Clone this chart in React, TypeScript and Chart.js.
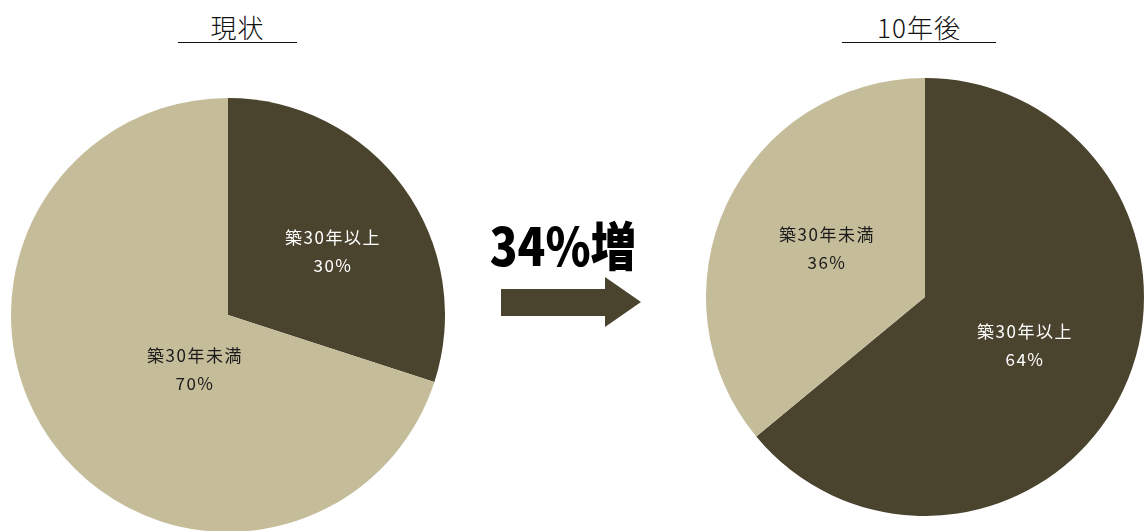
import React, { useEffect, useRef } from "react";
import { Chart, registerables } from "chart.js";

Chart.register(...registerables);

// ---- data ----
const categories = ["築30年以上", "築30年未満"];
const currentValues = [30, 70];
const futureValues = [64, 36];
const titles = ["現状", "10年後"];
const increaseText = "34%増";

const DARK = "#4a432e";
const LIGHT = "#c5bd9a";
const sliceColors = [DARK, LIGHT];
const labelColors = ["#ffffff", "#1a1a1a"];

type Offs = [number, number][];

const labelPlugin = {
  id: "sliceLabels",
  afterDatasetsDraw(chart: any) {
    const offs: Offs = chart.options.plugins.sliceLabels.offsets;
    const ctx = chart.ctx;
    const meta = chart.getDatasetMeta(0);
    const data = chart.data.datasets[0].data;
    ctx.save();
    ctx.font = '17px "Noto Sans CJK JP", "Noto Sans", sans-serif';
    try {
      (ctx as any).letterSpacing = "1.5px";
    } catch (e) {}
    ctx.textAlign = "center";
    ctx.textBaseline = "middle";
    meta.data.forEach((arc: any, i: number) => {
      const cx = arc.x + offs[i][0];
      const cy = arc.y + offs[i][1];
      ctx.fillStyle = labelColors[i];
      ctx.fillText(String(chart.data.labels[i]), cx, cy - 14);
      ctx.fillText(`${data[i]}%`, cx, cy + 14);
    });
    ctx.restore();
  },
};

function Pie({ values, offsets, left, top, size }: { values: number[]; offsets: Offs; left: number; top: number; size: number }) {
  const ref = useRef<HTMLCanvasElement>(null);
  useEffect(() => {
    if (!ref.current) return;
    const chart = new Chart(ref.current, {
      type: "pie",
      data: {
        labels: categories,
        datasets: [{ data: values, backgroundColor: sliceColors, borderWidth: 0 }],
      },
      options: {
        responsive: false,
        animation: false,
        devicePixelRatio: 1,
        layout: { padding: 0 },
        plugins: {
          legend: { display: false },
          tooltip: { enabled: false },
          // @ts-ignore
          sliceLabels: { offsets },
        },
      } as any,
      plugins: [labelPlugin],
    });
    return () => chart.destroy();
  }, []);
  return (
    <canvas
      ref={ref}
      width={size}
      height={size}
      style={{ position: "absolute", left, top, width: size, height: size }}
    />
  );
}

const titleStyle: React.CSSProperties = {
  position: "absolute",
  top: 12,
  height: 30,
  borderBottom: "1.5px solid #111",
  textAlign: "center",
  font: '300 26px "Noto Sans CJK JP", sans-serif',
  lineHeight: "30px",
  letterSpacing: "1px",
  color: "#111",
};

export default function App() {
  return (
    <div
      style={{
        position: "fixed",
        left: 0,
        top: 0,
        width: 1145,
        height: 531,
        overflow: "hidden",
        background: "#fff",
      }}
    >
      <div style={{ ...titleStyle, left: 178, width: 119 }}>{titles[0]}</div>
      <div style={{ ...titleStyle, left: 842, width: 154 }}>{titles[1]}</div>
      <Pie values={currentValues} offsets={[[105, -63], [-33, 55]]} left={11} top={98} size={434} />
      <Pie values={futureValues} offsets={[[100, 49], [-98, -48]]} left={706} top={78} size={438} />
      <div
        style={{
          position: "absolute",
          left: 563,
          top: 244,
          transform: "translate(-50%, -50%) scaleX(0.88)",
          font: '900 52px "Noto Sans CJK JP", sans-serif',
          lineHeight: "60px",
          whiteSpace: "nowrap",
          color: "#000",
        }}
      >
        {increaseText}
      </div>
      <svg style={{ position: "absolute", left: 0, top: 0 }} width={1145} height={531}>
        <polygon
          points="501,289 605,289 605,277 641,302 605,327 605,316 501,316"
          fill={DARK}
        />
      </svg>
    </div>
  );
}
